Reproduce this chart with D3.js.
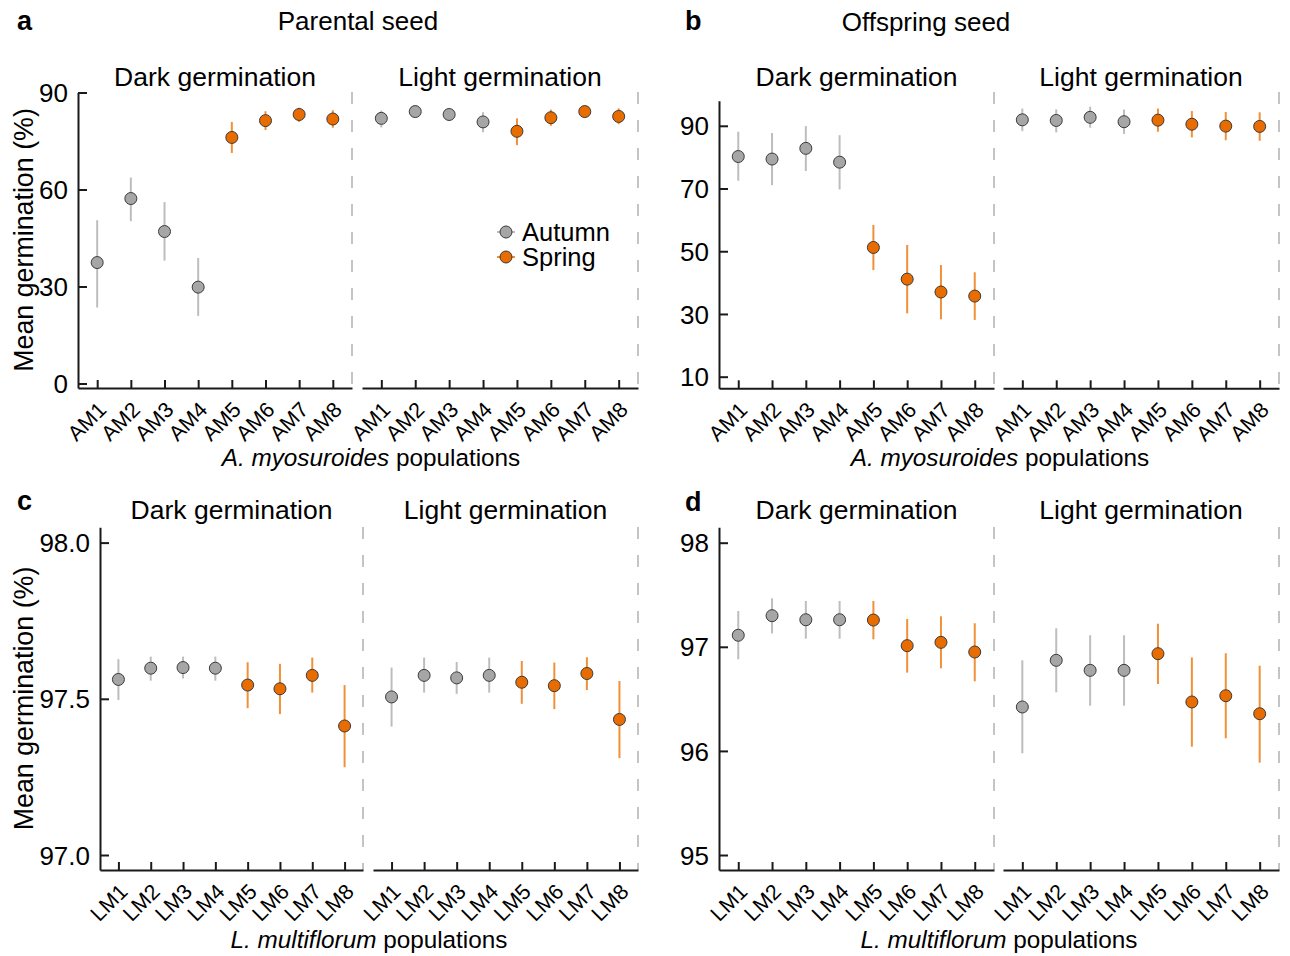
<!DOCTYPE html>
<html lang="en">
<head>
    <meta charset="UTF-8">
    <title>Germination</title>
    <script src="https://cdn.jsdelivr.net/npm/d3@7"></script>
    <style>
        body { margin: 0; background: #fff; }
        text { font-family: "Liberation Sans", Arial, sans-serif; fill: #000; }
    </style>
</head>
<body>
<div id="container"></div>
<script>
    // Data: [mean, lower, upper] per population
    const amPops = ["AM1", "AM2", "AM3", "AM4", "AM5", "AM6", "AM7", "AM8"];
    const lmPops = ["LM1", "LM2", "LM3", "LM4", "LM5", "LM6", "LM7", "LM8"];
    const seasons = ["Autumn", "Autumn", "Autumn", "Autumn", "Spring", "Spring", "Spring", "Spring"];

    const parentalAmDark = [[37.4, 23.5, 50.5], [57.2, 50.2, 63.7], [47.0, 38.0, 56.1], [29.8, 20.9, 38.8],
        [76.1, 71.3, 80.9], [81.3, 78.4, 84.2], [83.2, 80.9, 85.3], [81.8, 79.1, 84.5]];
    const parentalAmLight = [[82.0, 79.2, 84.4], [84.1, 83.0, 85.1], [83.2, 81.3, 84.9], [80.9, 77.7, 83.9],
        [78.0, 73.7, 82.0], [82.2, 79.7, 84.7], [84.1, 82.3, 85.7], [82.6, 80.2, 85.1]];
    const offspringAmDark = [[80.2, 72.5, 88.1], [79.4, 71.1, 87.7], [82.8, 75.6, 89.9], [78.4, 69.7, 87.0],
        [51.2, 44.0, 58.4], [41.1, 30.2, 52.0], [37.0, 28.3, 45.6], [35.7, 28.1, 43.3]];
    const offspringAmLight = [[91.9, 88.3, 95.5], [91.7, 87.9, 95.2], [92.7, 89.4, 96.1], [91.3, 87.4, 95.2],
        [91.8, 88.1, 95.5], [90.5, 86.3, 94.7], [89.9, 85.4, 94.4], [89.8, 85.2, 94.3]];
    const parentalLmDark = [[97.562, 97.496, 97.627], [97.598, 97.558, 97.635], [97.600, 97.565, 97.635], [97.598, 97.558, 97.635],
        [97.544, 97.470, 97.617], [97.532, 97.451, 97.612], [97.575, 97.520, 97.632], [97.413, 97.281, 97.544]];
    const parentalLmLight = [[97.506, 97.411, 97.600], [97.575, 97.520, 97.632], [97.567, 97.516, 97.618], [97.575, 97.520, 97.632],
        [97.553, 97.484, 97.621], [97.542, 97.467, 97.616], [97.581, 97.528, 97.633], [97.434, 97.310, 97.557]];
    const offspringLmDark = [[97.111, 96.880, 97.344], [97.299, 97.129, 97.466], [97.260, 97.078, 97.440], [97.260, 97.078, 97.440],
        [97.257, 97.072, 97.440], [97.011, 96.752, 97.267], [97.043, 96.793, 97.293], [96.950, 96.669, 97.226]];
    const offspringLmLight = [[96.422, 95.977, 96.870], [96.870, 96.563, 97.178], [96.774, 96.434, 97.111], [96.774, 96.434, 97.111],
        [96.934, 96.643, 97.222], [96.470, 96.040, 96.898], [96.530, 96.121, 96.938], [96.357, 95.887, 96.818]];

    const ticksA = [0, 30, 60, 90];
    const ticksB = [10, 30, 50, 70, 90];
    const ticksC = [97.0, 97.5, 98.0];
    const ticksD = [95, 96, 97, 98];

    const colors = {Autumn: "#a6a6a6", Spring: "#e86c00"};
    const barColors = {Autumn: "#bdbdbd", Spring: "#f0913a"};

    const width = 1290, height = 956;
    const svg = d3.select("#container").append("svg")
        .attr("width", width)
        .attr("height", height);

    const panels = [
        {letter: "a", title: "Parental seed", pops: amPops, dark: parentalAmDark, light: parentalAmLight,
            ticks: ticksA, fmt: d3.format("d"), domain: [-1.4, 90], yRange: [388, 92.5], top: 92,
            darkX: [78, 352], lightX: [362, 638], species: "A. myosuroides", yTitle: true, legend: true,
            letterX: 17, letterY: 30, titleX: 358, titleY: 30, stripY: 86, axTitleX: 371, axTitleY: 466},
        {letter: "b", title: "Offspring seed", pops: amPops, dark: offspringAmDark, light: offspringAmLight,
            ticks: ticksB, fmt: d3.format("d"), domain: [6.3, 98], yRange: [388.3, 100.7], top: 92,
            darkX: [719, 994], lightX: [1003, 1279], species: "A. myosuroides", yTitle: false, legend: false,
            letterX: 685, letterY: 30, titleX: 926, titleY: 31, stripY: 86, axTitleX: 1000, axTitleY: 466},
        {letter: "c", title: null, pops: lmPops, dark: parentalLmDark, light: parentalLmLight,
            ticks: ticksC, fmt: d3.format(".1f"), domain: [96.952, 98.049], yRange: [870, 527.3], top: 527,
            darkX: [100, 363], lightX: [373, 638], species: "L. multiflorum", yTitle: true, legend: false,
            letterX: 17, letterY: 510, stripY: 519, axTitleX: 369, axTitleY: 948},
        {letter: "d", title: null, pops: lmPops, dark: offspringLmDark, light: offspringLmLight,
            ticks: ticksD, fmt: d3.format("d"), domain: [94.856, 98.148], yRange: [870, 527.3], top: 527,
            darkX: [719, 994], lightX: [1003, 1279], species: "L. multiflorum", yTitle: false, legend: false,
            letterX: 685, letterY: 511, stripY: 519, axTitleX: 999, axTitleY: 948}
    ];

    function drawFacet(g, p, data, xr, label, withY) {
        const x = d3.scalePoint().domain(p.pops).range(xr).padding(0.57);
        const y = d3.scaleLinear().domain(p.domain).range(p.yRange);
        const bottom = p.yRange[0];

        // dashed right border
        g.append("line")
            .attr("x1", xr[1]).attr("x2", xr[1])
            .attr("y1", p.top).attr("y2", bottom)
            .attr("stroke", "#c4c4c4").attr("stroke-width", 2)
            .attr("stroke-dasharray", "12,16");

        // x axis
        const xAxis = g.append("g")
            .attr("transform", `translate(0,${bottom})`)
            .call(d3.axisBottom(x).tickSize(-8).tickSizeOuter(0));
        xAxis.selectAll("text")
            .attr("text-anchor", "end")
            .attr("dy", null).attr("y", null)
            .attr("transform", "translate(10,23) rotate(-45)")
            .style("font-size", "21.5px");

        if (withY) {
            const yAxis = g.append("g")
                .attr("transform", `translate(${xr[0]},0)`)
                .call(d3.axisLeft(y).tickValues(p.ticks).tickFormat(p.fmt)
                    .tickSize(-9).tickSizeOuter(0).tickPadding(10));
            yAxis.selectAll("text").style("font-size", "26px").attr("dy", "0.35em");
        }
        g.selectAll(".domain, .tick line").attr("stroke", "#1a1a1a").attr("stroke-width", 2);

        // strip label
        g.append("text")
            .attr("x", (xr[0] + xr[1]) / 2).attr("y", p.stripY)
            .attr("text-anchor", "middle")
            .style("font-size", "26.5px")
            .text(label);

        // error bars
        g.selectAll(".bar").data(data).enter().append("line")
            .attr("x1", (d, i) => x(p.pops[i])).attr("x2", (d, i) => x(p.pops[i]))
            .attr("y1", d => y(d[1])).attr("y2", d => y(d[2]))
            .attr("stroke", (d, i) => barColors[seasons[i]])
            .attr("stroke-width", 2);

        // points
        g.selectAll(".pt").data(data).enter().append("circle")
            .attr("cx", (d, i) => x(p.pops[i]))
            .attr("cy", d => y(d[0]))
            .attr("r", 6)
            .attr("fill", (d, i) => colors[seasons[i]])
            .attr("stroke", "#3a3a3a").attr("stroke-width", 1);
    }

    panels.forEach(p => {
        const g = svg.append("g");
        drawFacet(g, p, p.dark, p.darkX, "Dark germination", true);
        drawFacet(g, p, p.light, p.lightX, "Light germination", false);

        g.append("text")
            .attr("x", p.letterX).attr("y", p.letterY)
            .style("font-size", "27px").style("font-weight", "bold")
            .text(p.letter);

        if (p.title) {
            g.append("text")
                .attr("x", p.titleX).attr("y", p.titleY)
                .attr("text-anchor", "middle")
                .style("font-size", "26px")
                .text(p.title);
        }

        // x axis title
        const t = g.append("text")
            .attr("x", p.axTitleX).attr("y", p.axTitleY)
            .attr("text-anchor", "middle")
            .style("font-size", "24.3px");
        t.append("tspan").style("font-style", "italic").text(p.species);
        t.append("tspan").text(" populations");

        if (p.yTitle) {
            const cy = (p.yRange[0] + p.top) / 2;
            g.append("text")
                .attr("transform", `translate(33,${cy}) rotate(-90)`)
                .attr("text-anchor", "middle")
                .style("font-size", "26.8px")
                .text("Mean germination (%)");
        }

        if (p.legend) {
            const items = ["Autumn", "Spring"];
            const lg = g.append("g").attr("transform", "translate(506,232)");
            items.forEach((s, i) => {
                const row = lg.append("g").attr("transform", `translate(0,${i * 25})`);
                row.append("line").attr("x1", -9).attr("x2", 9)
                    .attr("stroke", barColors[s]).attr("stroke-width", 2);
                row.append("circle").attr("r", 6)
                    .attr("fill", colors[s]).attr("stroke", "#3a3a3a").attr("stroke-width", 1);
                row.append("text").attr("x", 16).attr("y", 9)
                    .style("font-size", "25.5px").text(s);
            });
        }
    });
</script>
</body>
</html>
